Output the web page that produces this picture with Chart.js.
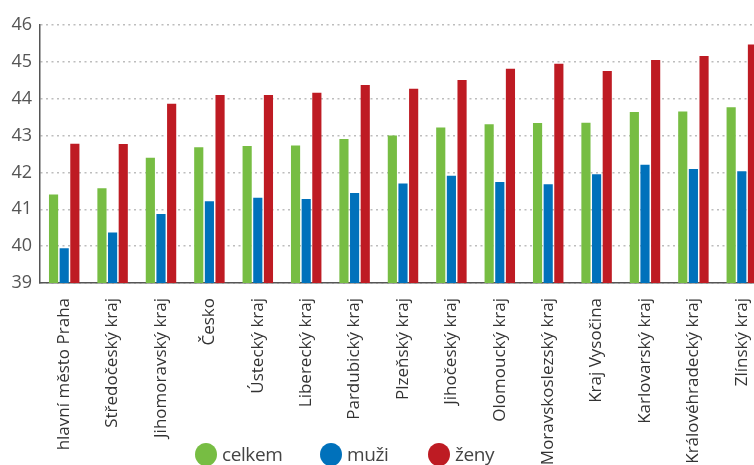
<!DOCTYPE html>
<html lang="cs">

<head>
  <meta charset="utf-8">
  <title>Průměrný věk podle krajů</title>
  <script src="https://cdn.jsdelivr.net/npm/chart.js"></script>
  <style>
    body { margin: 0; overflow: hidden; background: #fff; font-family: "Open Sans", sans-serif; }
    #wrap { position: absolute; left: 0; top: 0; width: 772px; height: 465px; }
    #legend span.item { position: absolute; top: 443px; display: flex; align-items: center; font-size: 19px; line-height: 23px; letter-spacing: -0.4px; color: #444; white-space: nowrap; }
    #legend span.dot { width: 22px; height: 23px; border-radius: 50%; margin-right: 5px; display: inline-block; }
  </style>
</head>

<body>
  <div id="wrap">
    <canvas id="myChart"></canvas>
  </div>
  <div id="legend"></div>
  <script>
    var regions = ['hlavní město Praha', 'Středočeský kraj', 'Jihomoravský kraj', 'Česko', 'Ústecký kraj',
      'Liberecký kraj', 'Pardubický kraj', 'Plzeňský kraj', 'Jihočeský kraj', 'Olomoucký kraj',
      'Moravskoslezský kraj', 'Kraj Vysočina', 'Karlovarský kraj', 'Královéhradecký kraj', 'Zlínský kraj'];
    var celkem = [41.40, 41.57, 42.40, 42.68, 42.72, 42.73, 42.91, 43.00, 43.22, 43.31, 43.34, 43.35, 43.64, 43.65, 43.77];
    var muzi = [39.94, 40.37, 40.87, 41.22, 41.31, 41.28, 41.44, 41.70, 41.91, 41.74, 41.68, 41.95, 42.21, 42.09, 42.03];
    var zeny = [42.78, 42.77, 43.86, 44.10, 44.10, 44.16, 44.37, 44.27, 44.51, 44.81, 44.95, 44.75, 45.05, 45.16, 45.47];
    var yTicks = [39, 40, 41, 42, 43, 44, 45, 46];

    const ctx = document.getElementById('myChart');
    Chart.defaults.font.family = '"Open Sans", sans-serif';

    const chart = new Chart(ctx, {
      type: 'bar',
      data: {
        labels: regions,
        datasets: [
          { label: 'celkem', data: celkem, backgroundColor: '#77bd43' },
          { label: 'muži', data: muzi, backgroundColor: '#0071bb' },
          { label: 'ženy', data: zeny, backgroundColor: '#be1b23' }
        ]
      },
      options: {
        responsive: true,
        maintainAspectRatio: false,
        animation: false,
        datasets: {
          bar: { categoryPercentage: 0.66, barPercentage: 0.86 }
        },
        layout: { padding: { top: 25, right: 6, left: 0, bottom: 0 } },
        plugins: {
          legend: { display: false },
          tooltip: { enabled: false }
        },
        scales: {
          x: {
            grid: { display: false },
            border: { display: true, color: '#555', width: 1.5 },
            ticks: {
              minRotation: 90, maxRotation: 90, autoSkip: false, padding: 7,
              color: '#333', font: { size: 17 }
            },
            afterFit: function (scale) { scale.height = 182; }
          },
          y: {
            min: 39, max: 46,
            afterBuildTicks: function (scale) {
              scale.ticks = yTicks.map(function (v) { return { value: v }; });
            },
            afterFit: function (scale) { scale.width = 40; },
            grid: { color: '#bdbdbd', lineWidth: 1.5, drawTicks: false },
            border: { display: true, color: '#555', width: 1.5, dash: [2, 3.5] },
            ticks: { color: '#555', font: { size: 18 }, padding: 8 }
          }
        }
      }
    });

    // legend sits over the bottom of the label area, like in the original
    var legend = document.getElementById('legend');
    var legendX = [195, 320, 428];
    chart.data.datasets.forEach(function (ds, i) {
      var item = document.createElement('span');
      item.className = 'item';
      item.style.left = legendX[i] + 'px';
      item.innerHTML = '<span class="dot" style="background:' + ds.backgroundColor + '"></span>' + ds.label;
      legend.appendChild(item);
    });
  </script>
</body>

</html>
